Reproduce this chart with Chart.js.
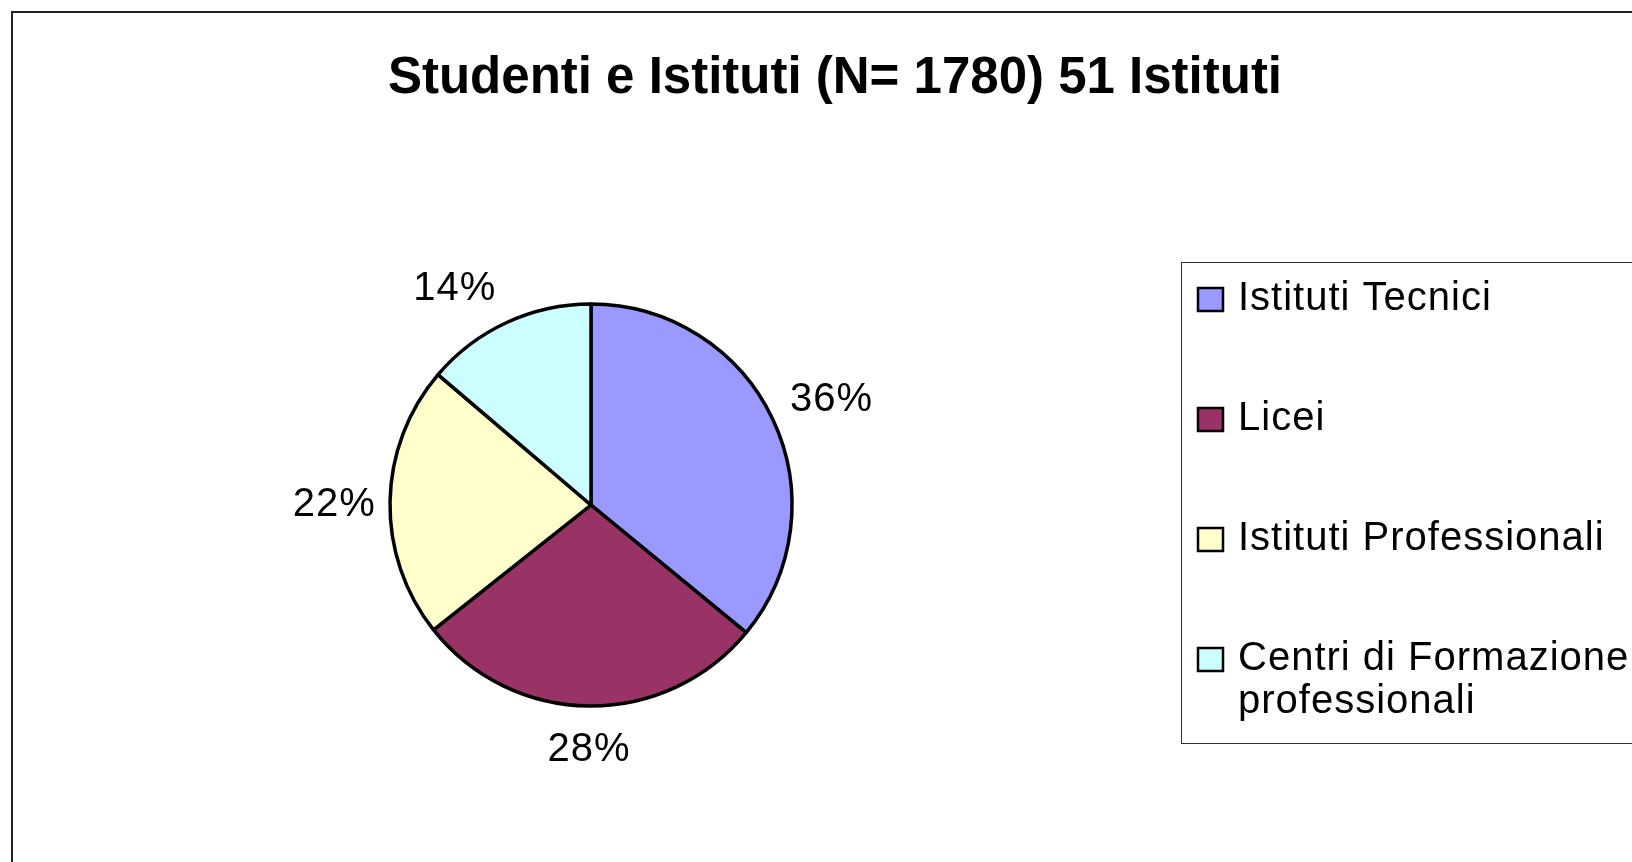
<!DOCTYPE html>
<html>
<head>
<meta charset="utf-8">
<script src="https://cdn.jsdelivr.net/npm/chart.js@4"></script>
<style>
  html, body { margin: 0; padding: 0; background: #fff; overflow: hidden; }
  #wrap { position: relative; width: 1632px; height: 862px; }
</style>
</head>
<body>
<div id="wrap"><canvas id="pie"></canvas></div>
<script>
// chart data
const chartTitle = "Studenti e Istituti (N= 1780) 51 Istituti";
const categories = ["Istituti Tecnici", "Licei", "Istituti Professionali", ["Centri di Formazione", "professionali"]];
const students = [640, 505, 390, 245];
const sliceColors = ["#9999FF", "#993366", "#FFFFCC", "#CCFFFF"];

const FONT = "'Liberation Sans', Arial, sans-serif";

// frame, title, percent labels and legend drawn on the same canvas
const excelLook = {
  id: "excelLook",
  beforeDraw(chart) {
    const ctx = chart.ctx;
    ctx.save();
    ctx.fillStyle = "#fff";
    ctx.fillRect(0, 0, chart.width, chart.height);
    // outer chart frame (right and bottom edges are cut off in the reference)
    ctx.strokeStyle = "#222";
    ctx.lineWidth = 2;
    ctx.beginPath();
    ctx.moveTo(12, chart.height + 5);
    ctx.lineTo(12, 12);
    ctx.lineTo(chart.width + 5, 12);
    ctx.stroke();
    // title
    ctx.fillStyle = "#000";
    ctx.font = "bold 51px " + FONT;
    ctx.textAlign = "center";
    ctx.textBaseline = "alphabetic";
    ctx.fillText(chartTitle, 835, 93);
    ctx.restore();
  },
  afterDatasetsDraw(chart) {
    const ctx = chart.ctx;
    const meta = chart.getDatasetMeta(0);
    const data = chart.data.datasets[0].data;
    const total = data.reduce((a, b) => a + b, 0);

    ctx.save();
    ctx.fillStyle = "#000";
    ctx.font = "40px " + FONT;
    ctx.letterSpacing = "1px";
    ctx.textAlign = "center";
    ctx.textBaseline = "alphabetic";
    const capH = 29;
    meta.data.forEach((arc, i) => {
      const mid = (arc.startAngle + arc.endAngle) / 2;
      const ux = Math.cos(mid), uy = Math.sin(mid);
      const dist = arc.outerRadius + 14 + 12 * Math.abs(uy);
      const px = arc.x + ux * dist, py = arc.y + uy * dist;
      const txt = Math.round(data[i] / total * 100) + "%";
      const w = ctx.measureText(txt).width;
      const sx = ux > 0.3 ? 1 : (ux < -0.3 ? -1 : 0);
      const sy = uy > 0.3 ? 1 : (uy < -0.3 ? -1 : 0);
      const cx = px + sx * w / 2;
      const cy = py + sy * capH / 2;
      ctx.fillText(txt, cx, cy + capH / 2);
    });

    // legend box
    const lx = 1181, ly = 262, lb = 743;
    ctx.strokeStyle = "#333";
    ctx.lineWidth = 1;
    ctx.strokeRect(lx + 0.5, ly + 0.5, chart.width, lb - ly);
    ctx.textAlign = "left";
    chart.data.labels.forEach((lab, i) => {
      const base = ly + 48 + i * 120;
      ctx.fillStyle = sliceColors[i];
      ctx.fillRect(1198, base - 22, 25, 23);
      ctx.strokeStyle = "#000";
      ctx.lineWidth = 2.5;
      ctx.strokeRect(1198, base - 22, 25, 23);
      ctx.fillStyle = "#000";
      const lines = Array.isArray(lab) ? lab : [lab];
      lines.forEach((ln, k) => ctx.fillText(ln, 1238, base + k * 43));
    });
    ctx.restore();
  }
};

const ctx = document.getElementById("pie").getContext("2d");
const pieChart = new Chart(ctx, {
  type: "pie",
  data: {
    labels: categories,
    datasets: [{
      data: students,
      backgroundColor: sliceColors,
      borderColor: "#000",
      borderWidth: 3.5,
      radius: 201,
    }],
  },
  options: {
    responsive: true,
    maintainAspectRatio: false,
    animation: false,
    layout: {
      padding: { left: 341, right: 791, top: 255, bottom: 107 },
    },
    plugins: {
      legend: { display: false },
      title: { display: false },
      tooltip: { enabled: false },
    },
  },
  plugins: [excelLook],
});
</script>
</body>
</html>
